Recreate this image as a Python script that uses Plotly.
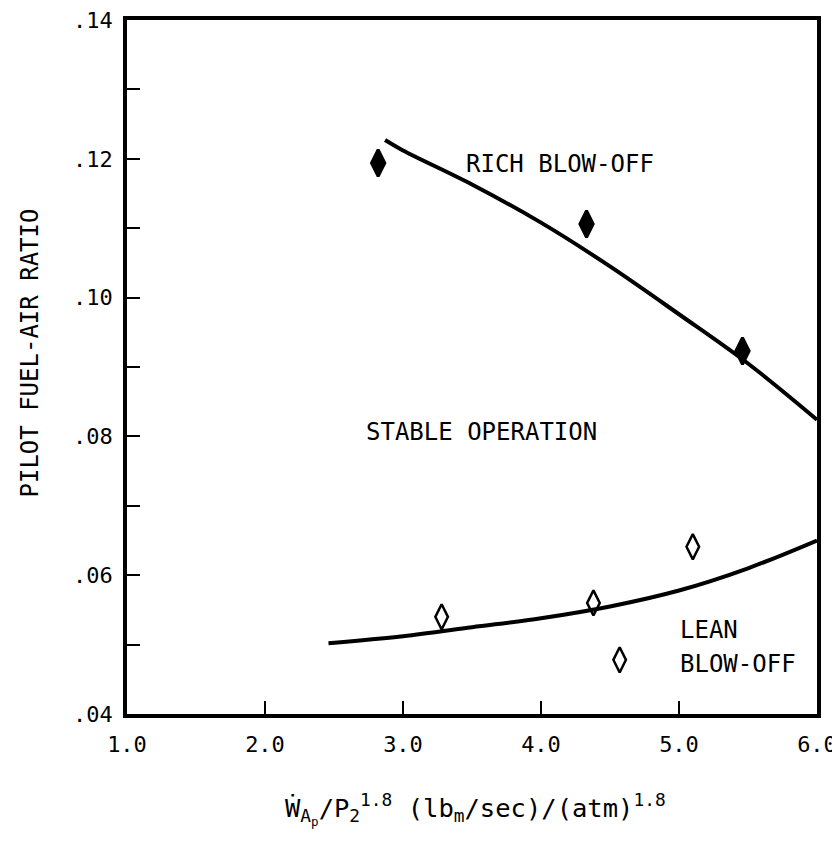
import plotly.graph_objects as go

# Data
rich_pts_x = [2.82, 4.33, 5.46]
rich_pts_y = [0.1194, 0.1106, 0.0923]
lean_pts_x = [3.28, 4.38, 5.10, 4.57]
lean_pts_y = [0.0540, 0.0560, 0.0641, 0.0478]

rich_curve_x = [2.87, 3.0, 3.5, 4.0, 4.5, 5.0, 5.5, 6.0]
rich_curve_y = [0.1227, 0.1212, 0.1163, 0.1108, 0.1045, 0.0976, 0.0905, 0.0824]
lean_curve_x = [2.46, 3.0, 3.5, 4.0, 4.5, 5.0, 5.5, 6.0]
lean_curve_y = [0.0502, 0.0512, 0.0525, 0.0538, 0.0555, 0.0578, 0.0610, 0.0650]

x_tick_vals = [1.0, 2.0, 3.0, 4.0, 5.0, 6.0]
x_tick_text = ["1.0", "2.0", "3.0", "4.0", "5.0", "6.0"]
y_tick_vals = [0.04, 0.06, 0.08, 0.10, 0.12, 0.14]
y_tick_text = [".04", ".06", ".08", ".10", ".12", ".14"]

FONT = "DejaVu Sans Mono"

fig = go.Figure()
fig.add_trace(go.Scatter(x=rich_curve_x, y=rich_curve_y, mode="lines",
                         line=dict(color="black", width=4, shape="spline"),
                         showlegend=False, hoverinfo="skip"))
fig.add_trace(go.Scatter(x=lean_curve_x, y=lean_curve_y, mode="lines",
                         line=dict(color="black", width=4, shape="spline"),
                         showlegend=False, hoverinfo="skip"))
fig.add_trace(go.Scatter(x=rich_pts_x, y=rich_pts_y, mode="markers",
                         marker=dict(symbol="diamond-tall", size=19, color="black",
                                     line=dict(width=3, color="black")),
                         showlegend=False))
fig.add_trace(go.Scatter(x=lean_pts_x, y=lean_pts_y, mode="markers",
                         marker=dict(symbol="diamond-tall-open", size=18, color="black",
                                     line=dict(width=2.5, color="black")),
                         showlegend=False))

annots = [
    dict(x=4.14, y=0.1192, text="RICH BLOW-OFF", xanchor="center", yanchor="middle"),
    dict(x=3.57, y=0.0806, text="STABLE OPERATION", xanchor="center", yanchor="middle"),
    dict(x=4.99, y=0.0521, text="LEAN", xanchor="left", yanchor="middle"),
    dict(x=4.99, y=0.0472, text="BLOW-OFF", xanchor="left", yanchor="middle"),
]
for a in annots:
    fig.add_annotation(**a, showarrow=False, font=dict(family=FONT, size=24, color="black"))

fig.add_annotation(x=-0.14, y=0.52, xref="paper", yref="paper", text="PILOT FUEL-AIR RATIO",
                   textangle=-90, showarrow=False, xanchor="center", yanchor="middle",
                   font=dict(family=FONT, size=24, color="black"))
fig.add_annotation(x=0.505, y=-0.105, xref="paper", yref="paper",
                   text="Ẇ<sub>A<sub>p</sub></sub>/P<sub>2</sub><sup>1.8</sup> (lb<sub>m</sub>/sec)/(atm)<sup>1.8</sup>",
                   showarrow=False, xanchor="center", yanchor="top",
                   font=dict(family=FONT, size=25.5, color="black"))

fig.update_xaxes(range=[1.0, 6.0], tickvals=x_tick_vals, ticktext=x_tick_text,
                 ticks="inside", ticklen=13, tickwidth=2, tickcolor="black",
                 showline=True, linewidth=3.5, linecolor="black", mirror=True,
                 showgrid=False, zeroline=False, ticklabelstandoff=8, automargin=False,
                 ticklabeloverflow="allow",
                 tickfont=dict(family=FONT, size=22, color="black"))
fig.update_yaxes(range=[0.04, 0.14], tickvals=y_tick_vals, ticktext=y_tick_text,
                 ticks="inside", ticklen=13, tickwidth=2, tickcolor="black",
                 minor=dict(ticks="inside", dtick=0.01, tick0=0.04, ticklen=13, tickwidth=2,
                            tickcolor="black", showgrid=False),
                 showline=True, linewidth=3.5, linecolor="black", mirror=True,
                 showgrid=False, zeroline=False, ticklabelstandoff=6, automargin=False,
                 ticklabeloverflow="allow",
                 tickfont=dict(family=FONT, size=22, color="black"))

# page body adds a small offset; margins compensate so the plot box lands at 127..817 x 20..714
fig.update_layout(width=840, height=846, margin=dict(l=119, r=31, t=12, b=140),
                  plot_bgcolor="white", paper_bgcolor="white", showlegend=False)

fig.write_html("out.html")
